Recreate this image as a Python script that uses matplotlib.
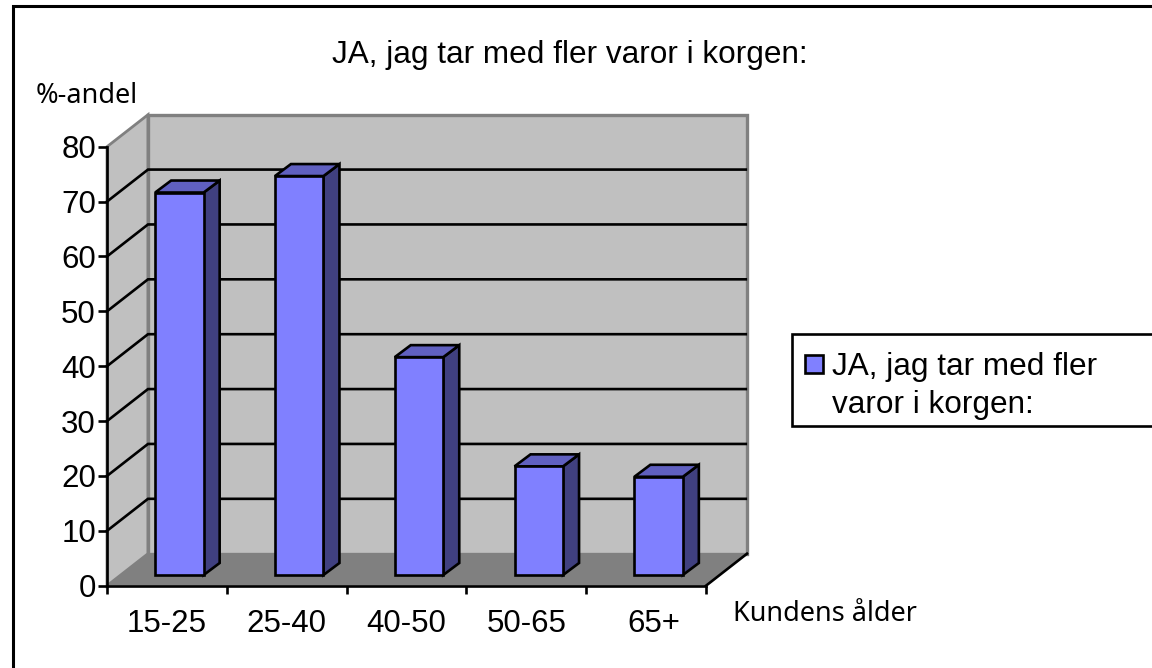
import matplotlib
matplotlib.use("Agg")
import matplotlib.pyplot as plt
from matplotlib.patches import Polygon, Rectangle
from matplotlib.transforms import ScaledTranslation

categories = ["15-25", "25-40", "40-50", "50-65", "65+"]
values = [69.7, 72.7, 39.7, 19.8, 17.9]
y_ticks = [0, 10, 20, 30, 40, 50, 60, 70, 80]

BAR_FACE = "#8080ff"
BAR_TOP = "#6060c0"
BAR_SIDE = "#404080"
WALL = "#c0c0c0"
FLOOR = "#808080"

W, H = 1152, 668
plt.rcParams["font.family"] = ["Liberation Sans", "DejaVu Sans"]

fig = plt.figure(figsize=(W / 100, H / 100), dpi=100)

# figure frame, drawn in pixels of the figure
fig.add_artist(Rectangle((12.5 / W, -6 / H), 1200 / W, 668 / H, transform=fig.transFigure,
                         fill=False, edgecolor="black", linewidth=2.2))

# front plane of the 3d box
left, right, top, bottom = 107, 706, 146.7, 585.7
ax = fig.add_axes([left / W, 1 - bottom / H, (right - left) / W, (bottom - top) / H])
ax.set_xlim(0, len(categories))
ax.set_ylim(0, 80)

ux = (right - left) / len(categories)
uy = (bottom - top) / 80
# depth of the box in data units
dx = 41 / ux
dy = 32 / uy
ymax = y_ticks[-1]
xmax = len(categories)


def poly(pts, face, edge="none", lw=0.0, z=1):
    ax.add_patch(Polygon(pts, closed=True, facecolor=face, edgecolor=edge,
                         linewidth=lw, clip_on=False, zorder=z, joinstyle="miter"))


# walls and floor
poly([(0, 0), (0, ymax), (dx, ymax + dy), (dx, dy)], WALL, FLOOR, 2.0, 1)
poly([(dx, dy), (dx, ymax + dy), (xmax + dx, ymax + dy), (xmax + dx, dy)], WALL, FLOOR, 2.4, 1)
poly([(0, 0), (dx, dy), (xmax + dx, dy), (xmax, 0)], FLOOR, z=2)

# gridlines follow the side wall and the back wall
for v in y_ticks[1:-1]:
    ax.plot([0, dx, xmax + dx - 0.01], [v, v + dy, v + dy], color="black", lw=1.9,
            clip_on=False, zorder=3, solid_joinstyle="miter")
ax.plot([xmax, xmax + dx], [0, dy], color="black", lw=1.9, clip_on=False, zorder=3)

# bars
bar_w = 48.5 / ux
off_x = 12.5 / ux
base = 10.7 / uy
side_x = 16 / ux
side_y = 12 / uy
for i, v in enumerate(values):
    x0 = i + 0.5 - bar_w / 2 + off_x
    x1 = x0 + bar_w
    y0 = base
    y1 = base + v
    poly([(x1, y0), (x1 + side_x, y0 + side_y), (x1 + side_x, y1 + side_y), (x1, y1)],
         BAR_SIDE, "black", 1.9, 4)
    poly([(x0, y1), (x1, y1), (x1 + side_x, y1 + side_y), (x0 + side_x, y1 + side_y)],
         BAR_TOP, "black", 1.9, 4)
    poly([(x0, y0), (x1, y0), (x1, y1), (x0, y1)], BAR_FACE, "black", 1.9, 5)

# axes
for s in ["top", "right"]:
    ax.spines[s].set_visible(False)
for s in ["left", "bottom"]:
    ax.spines[s].set_linewidth(1.9)
    ax.spines[s].set_zorder(6)
ax.patch.set_visible(False)
ax.set_yticks(y_ticks)
ax.set_xticks(range(len(categories) + 1))
ax.set_xticklabels([])
ax.set_xticks([i + 0.5 for i in range(len(categories))], categories, minor=True)
ax.tick_params(axis="y", length=6.5, width=1.9, labelsize=22.5, pad=1.5)
ax.tick_params(axis="x", which="major", length=6, width=1.9)
ax.tick_params(axis="x", which="minor", length=0, labelsize=22.5, pad=17)

# the last label sits a bit right of its slot in the reference
last = ax.get_xticklabels(minor=True)[-1]
last.set_transform(last.get_transform() + ScaledTranslation(8 / 100, 0, fig.dpi_scale_trans))

# texts
fig.text(569.5 / W, 1 - 54.5 / H, "JA, jag tar med fler varor i korgen:", fontsize=22.7,
         ha="center", va="center")
fig.text(36 / W, 1 - 96 / H, "%-andel", fontsize=19.5, ha="left", va="center",
         family=["Noto Sans", "DejaVu Sans"])
fig.text(733 / W, 1 - 614 / H, "Kundens ålder", fontsize=19.5, ha="left", va="center",
         family=["Noto Sans", "DejaVu Sans"])

# legend box, runs off the right edge
fig.add_artist(Rectangle((792 / W, 1 - 426 / H), 400 / W, 92 / H, transform=fig.transFigure,
                         facecolor="white", edgecolor="black", linewidth=1.9))
fig.add_artist(Rectangle((805 / W, 1 - 372.5 / H), 18 / W, 18 / H, transform=fig.transFigure,
                         facecolor=BAR_FACE, edgecolor="black", linewidth=1.9))
fig.text(832 / W, 1 - 366.5 / H, "JA, jag tar med fler", fontsize=22.7, ha="left", va="center")
fig.text(832 / W, 1 - 405 / H, "varor i korgen:", fontsize=22.7, ha="left", va="center")

fig.savefig("out.png", dpi=100)
